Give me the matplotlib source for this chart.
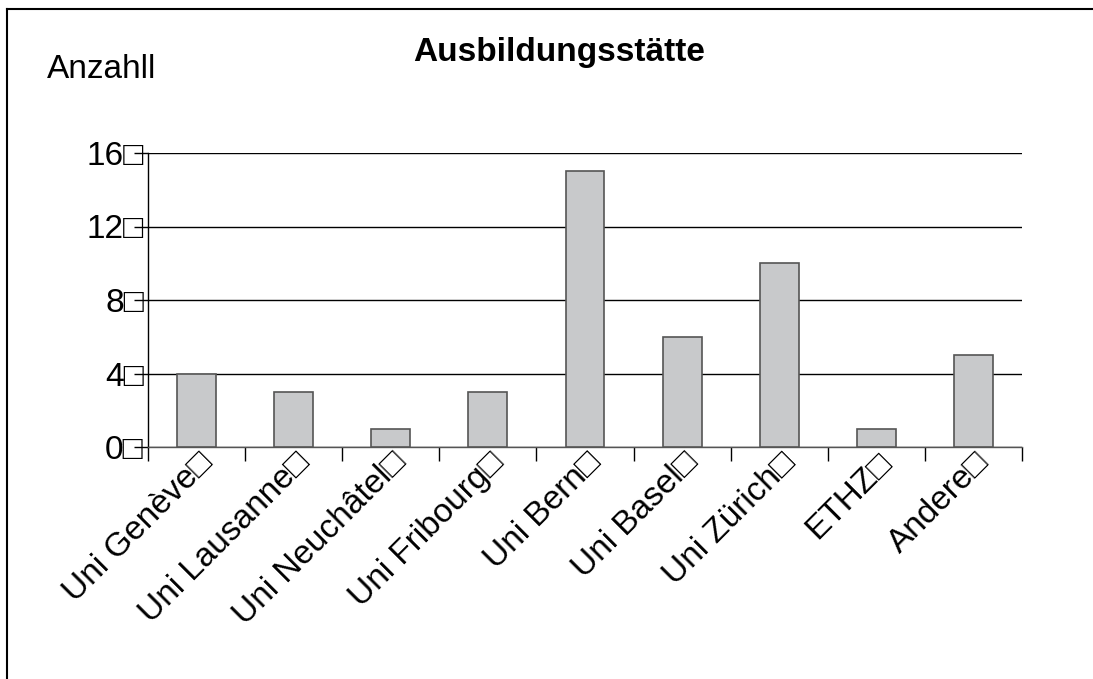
import matplotlib.pyplot as plt
from matplotlib.lines import Line2D

plt.rcParams['font.family'] = ['Liberation Sans', 'DejaVu Sans']

# data
categories = ['Uni Genève', 'Uni Lausanne', 'Uni Neuchâtel', 'Uni Fribourg',
              'Uni Bern', 'Uni Basel', 'Uni Zürich', 'ETHZ', 'Andere']
counts = [4, 3, 1, 3, 15, 6, 10, 1, 5]
yticks = [0, 4, 8, 12, 16]

W, H = 1093, 679
fig = plt.figure(figsize=(W / 100, H / 100), dpi=100)
ax = fig.add_axes([148 / W, 1 - 447 / H, (1022 - 148) / W, (447 - 153) / H])

xs = list(range(len(categories)))
ax.bar(xs, counts, width=0.4, color='#c8c9cb', edgecolor='#555555',
       linewidth=1.2, zorder=3)

ax.set_xlim(-0.5, len(categories) - 0.5)
ax.set_ylim(0, 16)

# y axis: gridlines + labels with the odd box glyph
ax.set_yticks(yticks)
ax.set_yticklabels([f'{v}\u25a1' for v in yticks], fontsize=24)
ax.tick_params(axis='y', direction='out', length=10, width=1, pad=-7)
ax.grid(axis='y', color='black', linewidth=1, zorder=0)

# x axis: ticks between categories, labels at the centres
ax.set_xticks([x + 0.5 for x in xs[:-1]] + [-0.5, len(categories) - 0.5], minor=True)
ax.set_xticks(xs)
ax.set_xticklabels([c + '\u25a1' for c in categories], fontsize=24,
                   rotation=45, ha='right', rotation_mode='anchor')
ax.tick_params(axis='x', which='major', length=0, pad=0)
ax.tick_params(axis='x', which='minor', direction='out', length=10, width=1)

for side in ['top', 'right']:
    ax.spines[side].set_visible(False)
ax.spines['left'].set_linewidth(1)
ax.spines['bottom'].set_linewidth(1)
ax.spines['bottom'].set_color('#555555')

fig.text(559 / W, 1 - 53 / H, 'Ausbildungsstätte', fontsize=24,
         fontweight='bold', ha='center', va='center')
fig.text(47 / W, 1 - 70 / H, 'Anzahll', fontsize=24, ha='left', va='center')

# outer frame (top and left edges visible)
fig.add_artist(Line2D([7 / W, 7 / W], [0, 1 - 9 / H], transform=fig.transFigure,
                      color='black', linewidth=1.5))
fig.add_artist(Line2D([7 / W, 1], [1 - 9 / H, 1 - 9 / H], transform=fig.transFigure,
                      color='black', linewidth=1.5))

fig.savefig('out.png', dpi=100, facecolor='white')
